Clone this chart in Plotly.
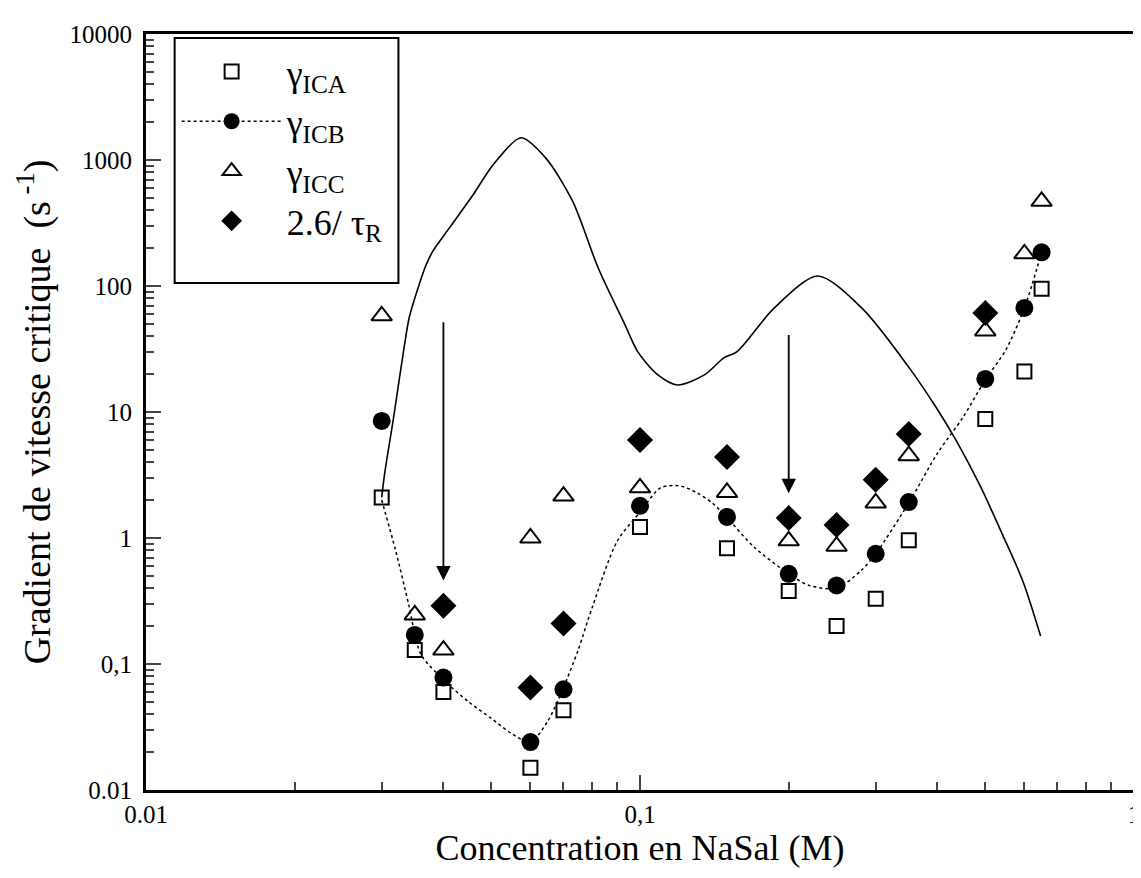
import numpy as np
import plotly.graph_objects as go

#  Concentrations (M) and critical shear rates (s-1)
conc = [0.03, 0.035, 0.04, 0.06, 0.07, 0.1, 0.15, 0.2, 0.25, 0.3, 0.35, 0.5, 0.6, 0.65]
gamma_ica = [2.1, 0.129, 0.06, 0.015, 0.043, 1.22, 0.83, 0.38, 0.2, 0.33, 0.96, 8.8, 21, 95]
gamma_icb = [8.5, 0.17, 0.078, 0.024, 0.063, 1.8, 1.47, 0.52, 0.42, 0.75, 1.93, 18.3, 67, 185]
gamma_icc = [58, 0.245, 0.129, 1.0, 2.15, 2.5, 2.3, 0.95, 0.86, 1.9, 4.5, 44, 180, 470]

conc_tau = [0.04, 0.06, 0.07, 0.1, 0.15, 0.2, 0.25, 0.3, 0.35, 0.5]
tau_r = [0.29, 0.065, 0.21, 6.0, 4.4, 1.44, 1.27, 2.9, 6.7, 61]

#  Solid curve
curve_x = [0.0300, 0.0304, 0.0317, 0.0332, 0.0341, 0.0357, 0.0369, 0.0381, 0.0411, 0.0459,
           0.0504, 0.0574, 0.0644, 0.073, 0.0823, 0.0933, 0.099, 0.1087, 0.119, 0.135,
           0.148, 0.157, 0.187, 0.229, 0.281, 0.352, 0.398, 0.437, 0.488, 0.542, 0.595, 0.647]
curve_y = [2.1, 3.2, 9, 30, 56, 102, 147, 190, 288, 527,
           912, 1500, 1040, 473, 139, 49, 30, 19.7, 16.4, 19.7,
           27, 30, 67, 120, 67, 22, 10.8, 5.9, 2.6, 1.06, 0.46, 0.167]

#  Dotted curve
dot_x = [0.03, 0.032, 0.034, 0.036, 0.04, 0.045, 0.05, 0.055, 0.06, 0.065, 0.07, 0.075, 0.08,
         0.09, 0.1, 0.11, 0.12, 0.13, 0.14, 0.15, 0.17, 0.2, 0.22, 0.25, 0.28, 0.3, 0.35,
         0.4, 0.45, 0.5, 0.55, 0.6, 0.65]
dot_y = [2.0, 0.8, 0.3, 0.12, 0.075, 0.05, 0.037, 0.028, 0.024, 0.035, 0.065, 0.13, 0.28,
         0.95, 1.6, 2.5, 2.6, 2.3, 1.9, 1.45, 0.85, 0.52, 0.42, 0.4, 0.55, 0.75, 1.9,
         4.7, 9, 18, 31, 67, 185]

#  Arrows (x, top, tip)
arrow_x = [0.04, 0.2]
arrow_top = [53, 42]
arrow_tip = [0.46, 2.27]

x_ticks = [0.01, 0.1, 1]
x_ticktext = ['0.01', '0,1', '1']
y_ticks = [0.01, 0.1, 1, 10, 100, 1000, 10000]
y_ticktext = ['0.01', '0,1', '1', '10', '100', '1000', '10000']

FONT = 'Liberation Serif, Times New Roman, serif'

fig = go.Figure()

fig.add_trace(go.Scatter(x=curve_x, y=curve_y, mode='lines', showlegend=False,
                         line=dict(color='black', width=1.6, shape='spline', smoothing=0.8)))
fig.add_trace(go.Scatter(x=dot_x, y=dot_y, mode='lines', showlegend=False,
                         line=dict(color='black', width=1.5, dash='dot', shape='spline', smoothing=0.8)))

fig.add_trace(go.Scatter(x=conc, y=gamma_ica, mode='markers', name='γ<sub>ICA</sub>',
                         marker=dict(symbol='square-open', size=14, color='black', line=dict(width=2))))
#  legend entry for ICB shows the dotted line through the dot
fig.add_trace(go.Scatter(x=conc, y=gamma_icb, mode='markers', showlegend=False,
                         marker=dict(symbol='circle', size=18, color='black')))
fig.add_trace(go.Scatter(x=[None], y=[None], mode='lines+markers', name='γ<sub>ICB</sub>',
                         line=dict(color='black', width=1.5, dash='dot'),
                         marker=dict(symbol='circle', size=18, color='black')))
fig.add_trace(go.Scatter(x=conc, y=gamma_icc, mode='markers', name='γ<sub>ICC</sub>',
                         marker=dict(symbol='triangle-up-open', size=18, color='black', line=dict(width=2))))
fig.add_trace(go.Scatter(x=conc_tau, y=tau_r, mode='markers', name='2.6/ τ<sub>R</sub>',
                         marker=dict(symbol='diamond', size=20, color='black')))

for xa, yt, yh in zip(arrow_x, arrow_top, arrow_tip):
    fig.add_annotation(x=np.log10(xa), y=np.log10(yh), ax=np.log10(xa), ay=np.log10(yt),
                       xref='x', yref='y', axref='x', ayref='y', text='', showarrow=True,
                       arrowhead=2, arrowsize=1.6, arrowwidth=1.8, arrowcolor='black')

#  legend frame drawn as a shape so it can be taller than the entries
fig.add_shape(type='rect', xref='paper', yref='paper', x0=0.029, x1=0.2555, y0=0.6706, y1=0.9947,
              line=dict(color='black', width=2), layer='above')

fig.update_layout(
    width=1141, height=878,
    margin=dict(l=138, r=9, t=26, b=96),
    plot_bgcolor='white', paper_bgcolor='white',
    font=dict(family=FONT, color='black', size=25),
    legend=dict(x=0.031, y=0.99, xanchor='left', yanchor='top',
                borderwidth=0, bgcolor='rgba(0,0,0,0)',
                font=dict(size=36, family=FONT), itemwidth=100, tracegroupgap=0),
)

fig.update_xaxes(type='log', range=[-2, 0], tickvals=x_ticks, ticktext=x_ticktext,
                 ticks='inside', ticklen=15, tickwidth=2, showgrid=False, zeroline=False,
                 showline=True, linewidth=3, linecolor='black', mirror=True,
                 tickfont=dict(size=25),
                 minor=dict(ticks='inside', ticklen=8, tickwidth=1.5, showgrid=False,
                            tickvals=[k * 10.0 ** e for e in (-2, -1) for k in range(2, 10)]),
                 title=dict(text='Concentration en NaSal (M)', font=dict(size=36), standoff=4))
fig.update_yaxes(type='log', range=[-2, 4], tickvals=y_ticks, ticktext=y_ticktext,
                 ticks='inside', ticklen=15, tickwidth=2, showgrid=False, zeroline=False,
                 showline=True, linewidth=3, linecolor='black', mirror=True,
                 tickfont=dict(size=25), ticklabelstandoff=6,
                 minor=dict(ticks='inside', ticklen=8, tickwidth=1.5, showgrid=False,
                            tickvals=[k * 10.0 ** e for e in range(-2, 4) for k in range(2, 10)]),
                 title=dict(text='Gradient de vitesse critique  (s<sup> -1</sup>)', font=dict(size=38), standoff=8))

fig.write_html('out.html')
